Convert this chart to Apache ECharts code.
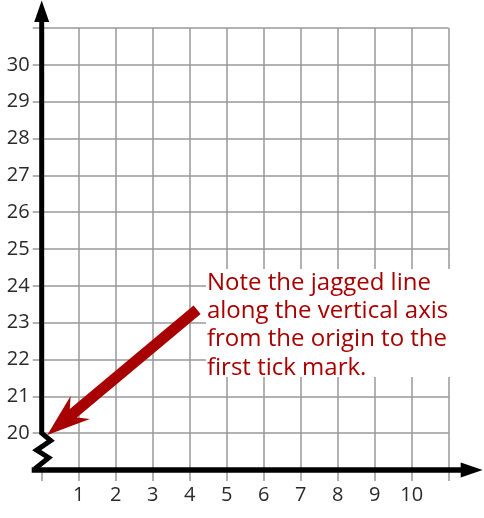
<!DOCTYPE html>
<html><head><meta charset="utf-8">
<script src="https://cdn.jsdelivr.net/npm/echarts@6/dist/echarts.min.js"></script>
<style>html,body{margin:0;padding:0;background:#fff}#c{width:484px;height:518px}</style>
</head><body><div id="c"></div>
<script>
// axis ranges
const xMin = 0, xMax = 11;
const yMin = 19, yMax = 31;
// tick labels
const xLabels = [1, 2, 3, 4, 5, 6, 7, 8, 9, 10];
const yLabels = [20, 21, 22, 23, 24, 25, 26, 27, 28, 29, 30];
// annotation
const noteLines = ['Note the jagged line', 'along the vertical axis', 'from the origin to the', 'first tick mark.'];
const noteAnchor = [4.44, 24.46];   // top-left of note box (data coords)
const arrowTip = [0.15, 19.95];
const arrowTail = [4.2, 23.35];

const FONT = '"Comic Sans MS", "Open Sans", sans-serif';
const chart = echarts.init(document.getElementById('c'), null, {renderer: 'canvas'});
chart.setOption({
  animation: false,
  grid: {left: 41.7, right: 35.3, top: 28, bottom: 48},
  xAxis: {
    type: 'value', min: xMin, max: xMax, interval: 1,
    axisLine: {show: false},
    axisTick: {show: true, length: 11, lineStyle: {color: '#999', width: 1.5}},
    splitLine: {show: true, showMinLine: false, lineStyle: {color: '#999', width: 1.5}},
    axisLabel: {
      margin: 15, fontSize: 20, color: '#2a2a2a', fontFamily: FONT,
      showMinLabel: true, showMaxLabel: true,
      formatter: v => xLabels.includes(v) ? String(v) : ''
    }
  },
  yAxis: {
    type: 'value', min: yMin, max: yMax, interval: 1,
    axisLine: {show: false},
    axisTick: {show: true, length: 9, lineStyle: {color: '#999', width: 1.5}},
    splitLine: {show: true, lineStyle: {color: '#999', width: 1.5}},
    axisLabel: {
      margin: 12, fontSize: 20, color: '#2a2a2a', fontFamily: FONT,
      showMinLabel: true, showMaxLabel: true,
      formatter: v => yLabels.includes(v) ? String(v) : ''
    }
  },
  series: [{type: 'line', data: []}]
});

const px = (x, y) => chart.convertToPixel({gridIndex: 0}, [x, y]);
const o = px(xMin, yMin);
const ox = o[0], oy = o[1];
const y20 = px(xMin, yLabels[0])[1];
const topY = px(xMin, yMax)[1];
const rightX = px(xMax, yMin)[0];
const black = '#000';
const red = '#a80000';

// red arrow polygon
const tip = px(arrowTip[0], arrowTip[1]);
const tail = px(arrowTail[0], arrowTail[1]);
const dx = tail[0] - tip[0], dy = tail[1] - tip[1];
const len = Math.hypot(dx, dy);
const ux = dx / len, uy = dy / len;
const nx = -uy, ny = ux;
const P = (a, b) => [tip[0] + ux * a + nx * b, tip[1] + uy * a + ny * b];
const arrowPts = [P(0, 0), P(43, 15), P(34, 5.5), P(len, 5.5), P(len, -5.5), P(34, -5.5), P(43, -15)];

const nA = px(noteAnchor[0], noteAnchor[1]);

chart.setOption({
  graphic: [
    {type: 'rect', z: 50, shape: {x: nA[0], y: nA[1], width: 262, height: 108}, style: {fill: '#fff'}},
    {type: 'text', z: 51, x: nA[0] + 1, y: nA[1] + 0, style: {
      text: noteLines.join('\n'), fill: red, font: '24px ' + FONT, lineHeight: 28.3,
      textVerticalAlign: 'top'
    }},
    // y axis with jagged segment
    {type: 'polyline', z: 60, shape: {points: [
      [ox, topY - 7], [ox, y20], [ox + 9, y20 + 7.5], [ox - 5, y20 + 17], [ox + 7, y20 + 24.5], [ox - 7, oy - 1]
    ]}, style: {stroke: black, lineWidth: 5, fill: null, lineJoin: 'miter'}},
    {type: 'line', z: 60, shape: {x1: ox - 10, y1: oy, x2: rightX + 13, y2: oy}, style: {stroke: black, lineWidth: 5.5}},
    {type: 'polygon', z: 60, shape: {points: [[ox - 7.5, topY - 6], [ox + 7.5, topY - 6], [ox, topY - 27.5]]}, style: {fill: black}},
    {type: 'polygon', z: 60, shape: {points: [[rightX + 12, oy - 7.5], [rightX + 12, oy + 7.5], [rightX + 34, oy]]}, style: {fill: black}},
    {type: 'polygon', z: 70, shape: {points: arrowPts}, style: {fill: red}}
  ]
});
</script>
</body></html>
